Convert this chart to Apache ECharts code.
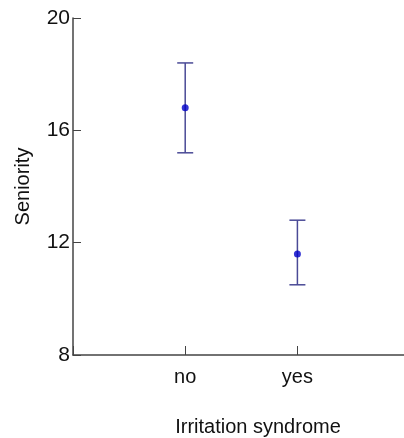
<!DOCTYPE html>
<html>
<head>
<meta charset="utf-8">
<script src="https://cdn.jsdelivr.net/npm/echarts@6/dist/echarts.min.js"></script>
<style>
  html, body { margin: 0; padding: 0; background: #fff; }
  #chart { width: 404px; height: 438px; }
</style>
</head>
<body>
<div id="chart"></div>
<script>
// group means with error bar ends
var categories = ['no', 'yes']
var means = [16.8, 11.6]
var lower = [15.2, 10.5]
var upper = [18.4, 12.8]
var yTicks = [8, 12, 16, 20]

var myChart = echarts.init(document.getElementById('chart'))

var barData = categories.map(function (c, i) {
  return [i + 1, lower[i], upper[i]]
})
var pointData = categories.map(function (c, i) {
  return [i + 1, means[i]]
})

var option = {
  animation: false,
  grid: {
    left: 73,
    right: 0,
    top: 18,
    bottom: 83,
    outerBoundsMode: 'none'
  },
  xAxis: {
    type: 'value',
    min: 0,
    max: 2.95,
    interval: 1,
    name: 'Irritation syndrome',
    nameLocation: 'middle',
    nameGap: 62,
    nameTextStyle: {
      fontFamily: 'Liberation Sans',
      fontSize: 20,
      color: '#111',
      padding: [0, 0, 0, 39]
    },
    axisLine: { lineStyle: { color: '#444', width: 1.5 } },
    axisTick: { inside: true, length: 9, lineStyle: { color: '#444' } },
    axisLabel: {
      margin: 12,
      fontFamily: 'Liberation Sans',
      fontSize: 20,
      color: '#111',
      formatter: function (v) {
        return categories[v - 1] || ''
      }
    },
    splitLine: { show: false }
  },
  yAxis: {
    type: 'value',
    min: yTicks[0],
    max: yTicks[yTicks.length - 1],
    interval: 4,
    name: 'Seniority',
    nameLocation: 'middle',
    nameRotate: 90,
    nameGap: 40,
    nameTextStyle: {
      fontFamily: 'Liberation Sans',
      fontSize: 20,
      color: '#111'
    },
    axisLine: { show: true, lineStyle: { color: '#444', width: 1.5 } },
    axisTick: { show: true, inside: true, length: 8, lineStyle: { color: '#444' } },
    axisLabel: {
      margin: 3,
      fontFamily: 'Liberation Sans',
      fontSize: 21,
      color: '#111'
    },
    splitLine: { show: false }
  },
  series: [
    {
      type: 'custom',
      data: barData,
      renderItem: function (params, api) {
        var x = api.value(0)
        var lo = api.coord([x, api.value(1)])
        var hi = api.coord([x, api.value(2)])
        var half = 8
        var style = { stroke: '#4a4a96', lineWidth: 1.5 }
        return {
          type: 'group',
          children: [
            { type: 'line', shape: { x1: lo[0], y1: lo[1], x2: hi[0], y2: hi[1] }, style: style },
            { type: 'line', shape: { x1: hi[0] - half, y1: hi[1], x2: hi[0] + half, y2: hi[1] }, style: style },
            { type: 'line', shape: { x1: lo[0] - half, y1: lo[1], x2: lo[0] + half, y2: lo[1] }, style: style }
          ]
        }
      },
      z: 2
    },
    {
      type: 'scatter',
      data: pointData,
      symbol: 'circle',
      symbolSize: 7,
      itemStyle: { color: '#0000c8' },
      z: 3
    }
  ]
}

option && myChart.setOption(option)
</script>
</body>
</html>
